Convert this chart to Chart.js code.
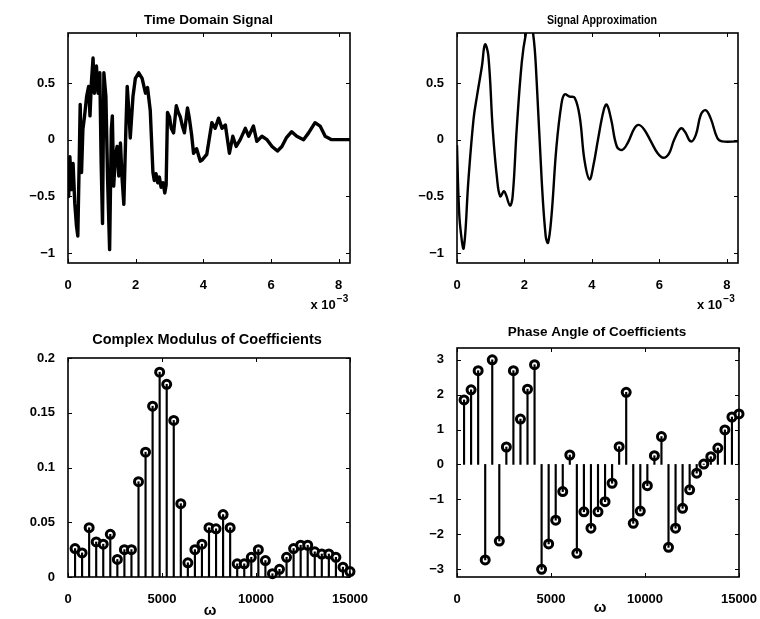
<!DOCTYPE html>
<html>
<head>
<meta charset="utf-8">
<script src="https://cdn.jsdelivr.net/npm/chart.js@4.4.0/dist/chart.umd.min.js"></script>
<style>
  html, body { margin: 0; padding: 0; background: #fff; }
  body { width: 760px; height: 619px; position: relative; overflow: hidden; }
  canvas { position: absolute; }
</style>
</head>
<body>
<canvas id="timeChart"></canvas>
<canvas id="approxChart"></canvas>
<canvas id="modChart"></canvas>
<canvas id="phaseChart"></canvas>
<script>
// time axis in units of 10^-3
const timeT = [0, 0.02, 0.055, 0.11, 0.15, 0.2, 0.25, 0.29, 0.33, 0.36, 0.4, 0.44, 0.49, 0.55, 0.61, 0.65, 0.69, 0.74,
  0.78, 0.84, 0.89, 0.94, 0.98, 1.02, 1.06, 1.12, 1.17, 1.23, 1.28, 1.31, 1.35, 1.4, 1.45, 1.5, 1.55, 1.6, 1.65,
  1.71, 1.75, 1.8, 1.84, 1.92, 1.99, 2.09, 2.19, 2.29, 2.35, 2.43, 2.51, 2.55, 2.6, 2.65, 2.7, 2.75, 2.81, 2.86,
  2.9, 2.94, 3.0, 3.05, 3.12, 3.2, 3.26, 3.32, 3.38, 3.44, 3.53, 3.58, 3.65, 3.71, 3.8, 3.91, 3.96, 4.1,
  4.25, 4.35, 4.45, 4.55, 4.65, 4.77, 4.87, 4.97, 5.09, 5.24, 5.34, 5.48, 5.58, 5.73, 5.88, 6.03, 6.19, 6.32, 6.45,
  6.61, 6.76, 6.96, 7.11, 7.3, 7.45, 7.6, 7.79, 8.04, 8.33];
const timeSignal = [-0.41, -0.5, -0.15, -0.44, -0.21, -0.56, -0.76, -0.85, -0.21, 0.31, -0.29, 0.09, 0.21, 0.38, 0.47, 0.21, 0.5, 0.72,
  0.41, 0.65, 0.41, 0.59, -0.21, -0.74, 0.59, 0.38, -0.35, -0.97, 0.09, 0.21, -0.41, -0.15, -0.06, -0.32, -0.03, -0.35, -0.57,
  0.09, 0.47, 0.24, 0.015, 0.38, 0.54, 0.59, 0.54, 0.41, 0.46, 0.26, -0.29, -0.36, -0.3, -0.38, -0.33, -0.42, -0.38, -0.47,
  -0.4, 0.24, 0.2, 0.1, 0.06, 0.3, 0.24, 0.2, 0.12, 0.06, 0.28, 0.2, 0.05, -0.12, -0.08, -0.19, -0.18, -0.13,
  0.15, 0.1, 0.19, 0.1, 0.13, -0.12, 0.03, -0.06, 0, 0.1, 0.03, 0.12, -0.015, 0.03, 0, -0.06, -0.1, -0.06, 0.015,
  0.07, 0.03, 0, 0.06, 0.15, 0.12, 0.03, 0, 0, 0];

const approxT = [0, 0.05, 0.1, 0.2, 0.34, 0.49, 0.59, 0.74, 0.83, 0.93, 1.06, 1.18, 1.28, 1.4, 1.57, 1.65, 1.77, 1.92,
  2.04, 2.15, 2.26, 2.36, 2.51, 2.63, 2.7, 2.8, 2.95, 3.1, 3.19, 3.34, 3.49, 3.64, 3.78, 3.93, 4.05, 4.18, 4.35, 4.44,
  4.57, 4.74, 4.9, 5.06, 5.26, 5.39, 5.55, 5.75, 5.95, 6.12, 6.29, 6.44, 6.64, 6.76, 6.93, 7.08, 7.23, 7.37, 7.52,
  7.72, 7.86, 8.33];
const approxSignal = [-0.05, -0.55, -0.78, -0.956, -0.35, 0.18, 0.38, 0.65, 0.84, 0.74, 0.09, -0.32, -0.5, -0.456, -0.58, -0.5, 0.09, 0.68,
  0.93, 1.02, 0.93, 0.53, -0.35, -0.85, -0.91, -0.68, -0.06, 0.32, 0.4, 0.38, 0.37, 0.2, -0.18, -0.35, -0.22, 0, 0.26, 0.31,
  0.18, -0.06, -0.09, -0.03, 0.1, 0.13, 0.09, -0.015, -0.12, -0.16, -0.12, 0, 0.1, 0.07, -0.015, 0.04, 0.22, 0.26, 0.19,
  0.015, -0.015, -0.015];

// harmonic frequencies
const omega = [375, 750, 1125, 1500, 1875, 2250, 2625, 3000, 3375, 3750, 4125, 4500, 4875, 5250, 5625, 6000, 6375, 6750, 7125, 7500,
  7875, 8250, 8625, 9000, 9375, 9750, 10125, 10500, 10875, 11250, 11625, 12000, 12375, 12750, 13125, 13500, 13875, 14250, 14625, 15000];
const modulus = [0.026, 0.022, 0.045, 0.032, 0.030, 0.039, 0.016, 0.025, 0.025, 0.087, 0.114, 0.156, 0.187, 0.176, 0.143, 0.067, 0.013, 0.025, 0.030, 0.045,
  0.044, 0.057, 0.045, 0.012, 0.012, 0.018, 0.025, 0.015, 0.003, 0.007, 0.018, 0.026, 0.029, 0.029, 0.023, 0.021, 0.021, 0.018, 0.009, 0.005];
const phase = [1.85, 2.14, 2.69, -2.74, 3.0, -2.2, 0.5, 2.69, 1.3, 2.16, 2.86, -3.01, -2.28, -1.6, -0.78, 0.27, -2.55, -1.36, -1.83, -1.36,
  -1.07, -0.54, 0.51, 2.07, -1.69, -1.34, -0.61, 0.25, 0.8, -2.38, -1.83, -1.26, -0.73, -0.25, 0.01, 0.22, 0.47, 0.99, 1.36, 1.45];

const FONT = '"Liberation Sans", Arial, sans-serif';
const PAD_T = 50, AX_W = 60, PAD_R = 30, AX_H = 30, PAD_B = 45;

// frame, inner ticks and the texts MATLAB put round each axes
const decor = {
  id: 'decor',
  afterDraw(chart, args, o) {
    const { ctx, chartArea: a, scales } = chart;
    ctx.save();
    ctx.strokeStyle = '#000';
    ctx.lineWidth = 1;
    const tl = 4;
    ctx.beginPath();
    scales.x.ticks.forEach(t => {
      const x = Math.round(scales.x.getPixelForValue(t.value)) + 0.5;
      ctx.moveTo(x, a.bottom); ctx.lineTo(x, a.bottom - tl);
      ctx.moveTo(x, a.top); ctx.lineTo(x, a.top + tl);
    });
    scales.y.ticks.forEach(t => {
      const y = Math.round(scales.y.getPixelForValue(t.value)) + 0.5;
      ctx.moveTo(a.left, y); ctx.lineTo(a.left + tl, y);
      ctx.moveTo(a.right, y); ctx.lineTo(a.right - tl, y);
    });
    ctx.stroke();
    ctx.lineWidth = 1.6;
    ctx.strokeRect(a.left, a.top, a.right - a.left, a.bottom - a.top);

    ctx.fillStyle = '#000';
    ctx.textBaseline = 'middle';
    ctx.textAlign = 'center';
    ctx.font = `bold ${o.titleSize}px ${FONT}`;
    const tx = o.titleX - o.ox, ty = o.titleY - o.oy;
    const natural = ctx.measureText(o.title).width;
    const sx = o.titleW ? o.titleW / natural : 1;
    ctx.save();
    ctx.translate(tx, ty);
    ctx.scale(sx, 1);
    ctx.fillText(o.title, 0, 0);
    ctx.restore();
    if (o.expo) {
      ctx.textAlign = 'left';
      ctx.font = `bold 13px ${FONT}`;
      ctx.fillText('x 10', o.expo[0] - o.ox, o.expo[1] - o.oy);
      const w = ctx.measureText('x 10').width;
      ctx.font = `bold 10px ${FONT}`;
      ctx.fillText('\u22123', o.expo[0] - o.ox + w + 1, o.expo[1] - o.oy - 6);
    }
    if (o.xlabel) {
      ctx.textAlign = 'center';
      ctx.font = `bold 15px ${FONT}`;
      ctx.fillText(o.xlabel[0], o.xlabel[1] - o.ox, o.xlabel[2] - o.oy);
    }
    ctx.restore();
  }
};

function fmt(v) {
  return String(v).replace('-', '\u2212');
}

function makeChart(id, area, cfg) {
  const canvas = document.getElementById(id);
  const ox = area.l - AX_W, oy = area.t - PAD_T;
  canvas.width = (area.r - area.l) + AX_W + PAD_R;
  canvas.height = (area.b - area.t) + PAD_T + AX_H + PAD_B;
  canvas.style.left = ox + 'px';
  canvas.style.top = oy + 'px';
  const tickFont = { family: FONT, size: 13, weight: 'bold' };
  return new Chart(canvas, {
    type: cfg.type,
    data: { datasets: cfg.datasets },
    options: {
      responsive: false,
      animation: false,
      events: [],
      layout: { padding: { top: PAD_T, right: PAD_R, bottom: PAD_B, left: 0 } },
      plugins: {
        legend: { display: false },
        tooltip: { enabled: false },
        decor: Object.assign({ ox, oy }, cfg.decor),
      },
      scales: {
        x: {
          type: 'linear',
          offset: false,
          min: cfg.x.min, max: cfg.x.max,
          grid: { display: false, offset: false },
          border: { display: false },
          ticks: { stepSize: cfg.x.step, includeBounds: false, maxRotation: 0, padding: 7,
                   color: '#000', font: tickFont, callback: fmt },
          afterFit: s => { s.height = AX_H; },
        },
        y: {
          type: 'linear',
          min: cfg.y.min, max: cfg.y.max,
          grid: { display: false },
          border: { display: false },
          ticks: { stepSize: cfg.y.step, includeBounds: false, padding: 5,
                   color: '#000', font: tickFont, callback: fmt },
          afterFit: s => { s.width = AX_W; },
        },
      },
    },
    plugins: [decor],
  });
}

function pairs(xs, ys) {
  return xs.map((x, i) => ({ x, y: ys[i] }));
}

function lineSet(xs, ys, width, tension) {
  return {
    type: 'line',
    data: pairs(xs, ys),
    borderColor: '#000',
    borderWidth: width,
    borderJoinStyle: 'round',
    pointRadius: 0,
    tension: tension,
    clip: 0,
  };
}

function stemSets(xs, ys) {
  return [
    {
      type: 'bar',
      data: pairs(xs, ys),
      backgroundColor: '#000',
      barThickness: 1.5,
      borderWidth: 0,
    },
    {
      type: 'scatter',
      data: pairs(xs, ys),
      pointStyle: 'circle',
      pointRadius: 4,
      borderWidth: 3,
      borderColor: '#000',
      backgroundColor: '#fff',
      clip: false,
    },
  ];
}

makeChart('timeChart', { l: 67.5, r: 350, t: 33, b: 263 }, {
  type: 'line',
  datasets: [lineSet(timeT, timeSignal, 3.4, 0)],
  x: { min: 0, max: 8.333, step: 2 },
  y: { min: -1.088, max: 0.941, step: 0.5 },
  decor: { title: 'Time Domain Signal', titleSize: 13.5, titleX: 208, titleY: 20, expo: [310, 305] },
});

makeChart('approxChart', { l: 457, r: 738, t: 33, b: 263 }, {
  type: 'line',
  datasets: [lineSet(approxT, approxSignal, 2.4, 0.4)],
  x: { min: 0, max: 8.333, step: 2 },
  y: { min: -1.088, max: 0.941, step: 0.5 },
  decor: { title: 'Signal Approximation', titleSize: 13, titleW: 110, titleX: 602, titleY: 20, expo: [697, 305] },
});

makeChart('modChart', { l: 68, r: 350, t: 358, b: 577 }, {
  type: 'bar',
  datasets: stemSets(omega, modulus),
  x: { min: 0, max: 15000, step: 5000 },
  y: { min: 0, max: 0.2, step: 0.05 },
  decor: { title: 'Complex Modulus of Coefficients', titleSize: 14.5, titleX: 207, titleY: 340, xlabel: ['\u03c9', 210, 611] },
});

makeChart('phaseChart', { l: 457, r: 739, t: 348, b: 577 }, {
  type: 'bar',
  datasets: stemSets(omega, phase),
  x: { min: 0, max: 15000, step: 5000 },
  y: { min: -3.23, max: 3.34, step: 1 },
  decor: { title: 'Phase Angle of Coefficients', titleSize: 13.5, titleX: 597, titleY: 332, xlabel: ['\u03c9', 600, 608] },
});
</script>
</body>
</html>
